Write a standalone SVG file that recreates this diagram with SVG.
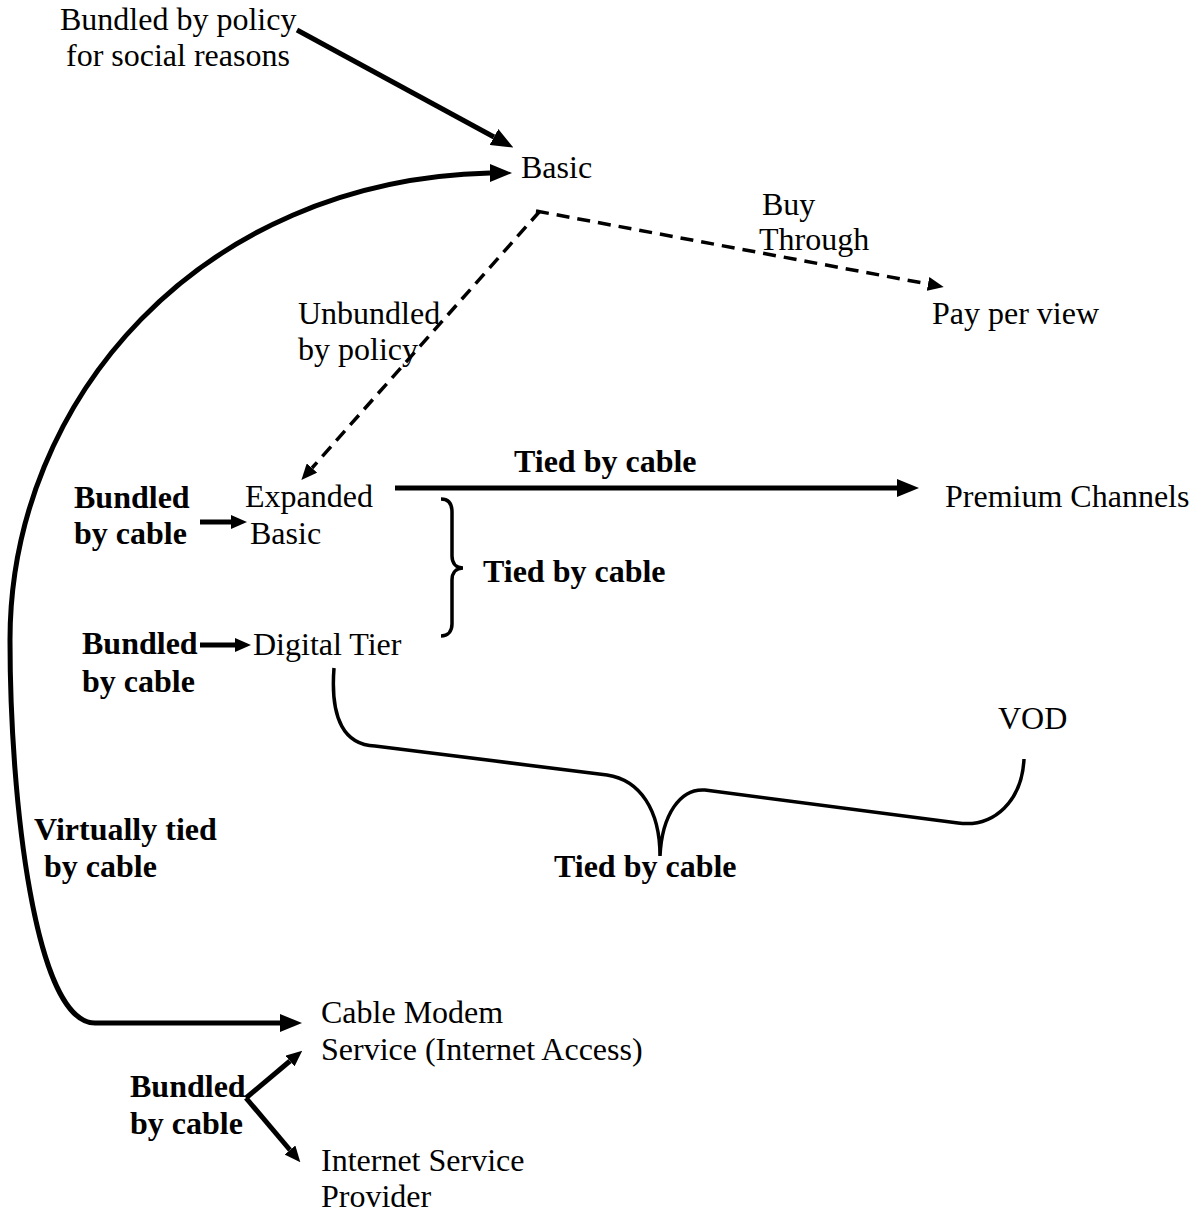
<svg xmlns="http://www.w3.org/2000/svg" width="1195" height="1214" viewBox="0 0 1195 1214">
<style>
text{font-family:"Liberation Serif","Times New Roman",serif;font-size:32px;fill:#000}
.b{font-weight:bold}
.thick{stroke:#000;stroke-width:5;fill:none}
.dash{stroke:#000;stroke-width:3.5;fill:none;stroke-dasharray:13 8}
.brace{stroke:#000;stroke-width:3.5;fill:none}
</style>
<defs>
<marker id="big" markerUnits="userSpaceOnUse" markerWidth="22" markerHeight="18" refX="0" refY="9" orient="auto"><path d="M0,0 L22,9 L0,18 z" fill="#000"/></marker>
<marker id="small" markerUnits="userSpaceOnUse" markerWidth="16" markerHeight="14" refX="0" refY="7" orient="auto"><path d="M0,0 L16,7 L0,14 z" fill="#000"/></marker>
<marker id="dsh" markerUnits="userSpaceOnUse" markerWidth="16" markerHeight="14" refX="0" refY="7" orient="auto"><path d="M0,0 L16,7 L0,14 z" fill="#000"/></marker>
</defs>
<g id="connectors">
<line class="thick" x1="297" y1="30" x2="494" y2="137" marker-end="url(#big)"/>
<path class="dash" d="M540,211 L312,468" marker-end="url(#dsh)"/>
<path class="dash" d="M536,211 L928,284" marker-end="url(#dsh)"/>
<path class="thick" d="M490,173 C200,180 10,400 10,640 C10,800 35,1023 95,1023 L280,1023" marker-end="url(#big)"/>
<polygon points="490,164 512,173 490,182" fill="#000"/>
<line class="thick" x1="395" y1="488" x2="897" y2="488" marker-end="url(#big)"/>
<line class="thick" x1="200" y1="522" x2="231" y2="522" marker-end="url(#small)"/>
<line class="thick" x1="200" y1="645" x2="235" y2="645" marker-end="url(#small)"/>
<line class="thick" x1="246" y1="1098" x2="290" y2="1061" marker-end="url(#small)"/>
<line class="thick" x1="246" y1="1098" x2="290" y2="1150" marker-end="url(#small)"/>
<path class="brace" d="M441,499 C450,499 452,505 452,512 L452,556 C452,563 456,568 463,568 C456,568 452,573 452,580 L452,624 C452,631 448,636 441,636"/>
<path class="brace" d="M334,668 C330,720 345,745 375,746 L607,775 C640,780 660,810 660,856 C662,815 680,788 705,790 L958,823 C995,828 1022,800 1024,759"/>
</g>
<g id="n-policy"><text x="60" y="30">Bundled by policy</text><text x="66" y="66">for social reasons</text></g>
<g id="n-basic"><text x="521" y="178">Basic</text></g>
<g id="n-buy"><text x="762" y="215">Buy</text><text x="759" y="250">Through</text></g>
<g id="n-ppv"><text x="932" y="324">Pay per view</text></g>
<g id="n-unbundled"><text x="298" y="324">Unbundled</text><text x="298" y="360">by policy</text></g>
<g id="n-bundled1"><text class="b" x="74" y="508">Bundled</text><text class="b" x="74" y="544">by cable</text></g>
<g id="n-expanded"><text x="245" y="507">Expanded</text><text x="250" y="544">Basic</text></g>
<g id="n-tied1"><text class="b" x="514" y="472">Tied by cable</text></g>
<g id="n-premium"><text x="945" y="507">Premium Channels</text></g>
<g id="n-tied2"><text class="b" x="483" y="582">Tied by cable</text></g>
<g id="n-bundled2"><text class="b" x="82" y="654">Bundled</text><text class="b" x="82" y="692">by cable</text></g>
<g id="n-digital"><text x="253" y="655">Digital Tier</text></g>
<g id="n-vod"><text x="998" y="729">VOD</text></g>
<g id="n-virtual"><text class="b" x="34" y="840">Virtually tied</text><text class="b" x="44" y="877">by cable</text></g>
<g id="n-tied3"><text class="b" x="554" y="877">Tied by cable</text></g>
<g id="n-modem"><text x="321" y="1023">Cable Modem</text><text x="321" y="1060">Service (Internet Access)</text></g>
<g id="n-bundled3"><text class="b" x="130" y="1097">Bundled</text><text class="b" x="130" y="1134">by cable</text></g>
<g id="n-isp"><text x="321" y="1171">Internet Service</text><text x="321" y="1207">Provider</text></g>
</svg>
